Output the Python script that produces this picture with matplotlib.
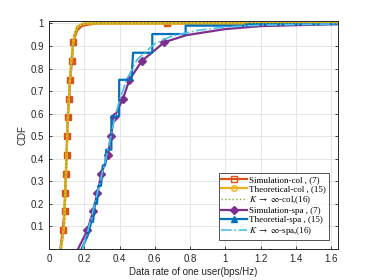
import matplotlib
matplotlib.use("Agg")
import matplotlib.pyplot as plt
from matplotlib.lines import Line2D
from matplotlib.ticker import FuncFormatter

# ---- data (rate in bps/Hz, CDF) ----
sim_col_x = [0.065, 0.077, 0.088, 0.091, 0.095, 0.100, 0.103, 0.105, 0.115, 0.120,
             0.130, 0.137, 0.160, 0.190, 0.250, 0.300, 0.670, 1.640]
sim_col_y = [0.0, 0.083, 0.167, 0.25, 0.333, 0.417, 0.5, 0.583, 0.667, 0.75,
             0.833, 0.917, 0.97, 0.99, 0.998, 1.0, 1.0, 1.0]

theo_col_x = [0.068, 0.085, 0.093, 0.100, 0.107, 0.115, 0.125, 0.135, 0.145, 0.160,
              0.190, 0.220, 1.640]
theo_col_y = [0.0, 0.10, 0.25, 0.42, 0.58, 0.70, 0.82, 0.90, 0.95, 0.985,
              0.998, 1.0, 1.0]

sim_spa_x = [0.165, 0.218, 0.250, 0.275, 0.297, 0.335, 0.350, 0.370, 0.420, 0.456,
             0.526, 0.655, 0.780, 1.000, 1.200, 1.640]
sim_spa_y = [0.0, 0.083, 0.167, 0.25, 0.333, 0.417, 0.5, 0.583, 0.667, 0.75,
             0.833, 0.917, 0.948, 0.975, 0.988, 0.997]

theo_spa_x = [0.185, 0.220, 0.240, 0.250, 0.260, 0.272, 0.280, 0.295, 0.305, 0.318,
              0.325, 0.354, 0.354, 0.398, 0.398, 0.468, 0.477, 0.586, 0.586, 0.775,
              0.775, 1.120, 1.120, 1.640]
theo_spa_y = [0.0, 0.06, 0.12, 0.12, 0.20, 0.20, 0.28, 0.28, 0.37, 0.37,
              0.44, 0.44, 0.588, 0.588, 0.75, 0.75, 0.87, 0.87, 0.953, 0.953,
              0.99, 0.99, 0.997, 0.997]

lim_spa_x = [0.190, 0.220, 0.250, 0.280, 0.310, 0.340, 0.370, 0.400, 0.440, 0.500,
             0.600, 0.700, 0.850, 1.000, 1.200, 1.640]
lim_spa_y = [0.0, 0.08, 0.17, 0.27, 0.36, 0.46, 0.57, 0.66, 0.75, 0.84,
             0.91, 0.945, 0.97, 0.984, 0.992, 0.998]

col_marks = list(range(1, 12)) + [16]
spa_marks = list(range(1, 12))

labels = ["Simulation-col , (7)", "Theoretical-col , (15)", r"$K\ \rightarrow\ \infty$-col,(16)",
          "Simulation-spa , (7)", "Theoretial-spa , (15)", r"$K\ \rightarrow\ \infty$-spa,(16)"]

c_or, c_ye, c_gr = "#D95319", "#EDB120", "#77AC30"
c_pu, c_bl, c_lb = "#7E2F8E", "#0072BD", "#4DBEEE"

plt.rcParams["font.family"] = "Liberation Sans"
plt.rcParams["mathtext.fontset"] = "stix"

fig = plt.figure(figsize=(3.74, 2.8), dpi=100)
ax = fig.add_axes([0.131, 0.111, 0.773, 0.815])

lw = 1.6
ax.plot(theo_col_x, theo_col_y, color=c_ye, lw=lw, zorder=3)
ax.plot(sim_col_x, sim_col_y, color=c_or, lw=lw, marker="s", ms=4.5,
        markevery=col_marks, zorder=2)
ax.plot(theo_col_x, theo_col_y, color=c_ye, lw=lw, zorder=3)
ax.plot(theo_col_x, theo_col_y, color=c_gr, lw=1.0, ls=":", zorder=4)

ax.plot(sim_spa_x, sim_spa_y, color=c_pu, lw=lw, marker="D", ms=4,
        markevery=spa_marks, zorder=2)
ax.plot(theo_spa_x, theo_spa_y, color=c_bl, lw=lw, zorder=3)
ax.plot(lim_spa_x, lim_spa_y, color=c_lb, lw=1.2, ls="-.", zorder=4)

ax.set_xlim(0, 1.64)
ax.set_ylim(0, 1.012)
ax.set_xticks([0, 0.2, 0.4, 0.6, 0.8, 1.0, 1.2, 1.4, 1.6])
ax.set_yticks([0.1, 0.2, 0.3, 0.4, 0.5, 0.6, 0.7, 0.8, 0.9, 1.0])
fmt = FuncFormatter(lambda v, p: f"{v:g}")
ax.xaxis.set_major_formatter(fmt)
ax.yaxis.set_major_formatter(fmt)
ax.tick_params(direction="in", length=2.5, width=0.6, labelsize=7,
               colors="#262626", top=True, right=True)
ax.tick_params(labeltop=False, labelright=False)
for s in ax.spines.values():
    s.set_color("#262626")
    s.set_linewidth(0.7)
ax.grid(True, color="#e6e6e6", lw=0.7)
ax.set_axisbelow(True)

ax.set_xlabel("Data rate of one user(bps/Hz)", fontsize=7, color="#262626", labelpad=2)
ax.set_ylabel("CDF", fontsize=7, color="#262626", labelpad=2)

handles = [
    Line2D([], [], color=c_or, lw=lw, marker="s", ms=4, mfc="none"),
    Line2D([], [], color=c_ye, lw=lw, marker="o", ms=4, mfc="none"),
    Line2D([], [], color=c_gr, lw=1.0, ls=":"),
    Line2D([], [], color=c_pu, lw=lw, marker="D", ms=4),
    Line2D([], [], color=c_bl, lw=lw, marker="^", ms=5),
    Line2D([], [], color=c_lb, lw=1.2, ls="-."),
]
leg = ax.legend(handles, labels, loc="lower right", bbox_to_anchor=(0.968, 0.04),
                fontsize=6.5, prop={"family": "Liberation Serif", "size": 6.5},
                frameon=True, fancybox=False, edgecolor="#262626",
                handlelength=2.8, handletextpad=0.3, labelspacing=0.1,
                borderpad=0.3, borderaxespad=0)
leg.get_frame().set_linewidth(0.7)

fig.savefig("out.png", dpi=100)
